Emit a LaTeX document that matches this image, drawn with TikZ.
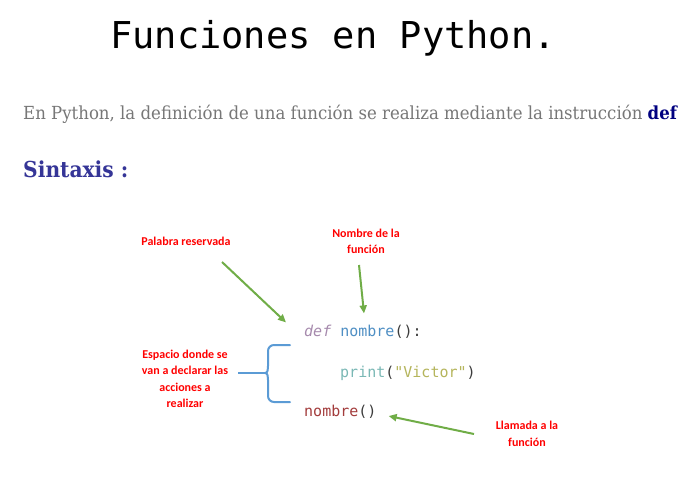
\documentclass[tikz,border=0pt]{standalone}
\usepackage{fontspec}
\usetikzlibrary{arrows.meta,calc}
\newfontfamily\titlefont{DejaVu Sans Mono}
\newfontfamily\codefont{DejaVu Sans Mono}
\newfontfamily\slabfont[FakeStretch=0.92]{DejaVu Serif}
\newfontfamily\notefont{Carlito}
\definecolor{textgray}{HTML}{777777}
\definecolor{navy}{HTML}{000080}
\definecolor{sintaxis}{HTML}{353597}
\definecolor{notered}{HTML}{FF0000}
\definecolor{arrowgreen}{HTML}{70AD47}
\definecolor{braceblue}{HTML}{5B9BD5}
\definecolor{defc}{HTML}{A68AAD}
\definecolor{namec}{HTML}{4F8FC4}
\definecolor{punctc}{HTML}{3C3C3C}
\definecolor{printc}{HTML}{7AB8B5}
\definecolor{strc}{HTML}{B5B55C}
\definecolor{callc}{HTML}{A33C3C}
\tikzset{
  note/.style={align=center, text=notered, inner sep=0pt, font=\notefont\bfseries\fontsize{12}{16.5}\selectfont},
  codeline/.style={anchor=base west, inner sep=0pt, font=\codefont\fontsize{15}{18}\selectfont},
  flecha/.style={draw=arrowgreen, line width=2pt, -{Triangle[length=8pt,width=7pt]}}
}
\begin{document}
\begin{tikzpicture}[x=1pt, y=-1pt]
\fill[white] (0,0) rectangle (690,477);
\useasboundingbox (0,0) rectangle (690,477);
\node[anchor=base west, inner sep=0pt, font=\titlefont\fontsize{37}{40}\selectfont] (title) at (110,48) {Funciones en Python.};
\node[anchor=base west, inner sep=0pt, text=textgray, font=\slabfont\fontsize{18}{20}\selectfont] (intro) at (23,119) {En Python, la definición de una función se realiza mediante la instrucción \textcolor{navy}{\bfseries def}};
\node[anchor=base west, inner sep=0pt, text=sintaxis, font=\slabfont\bfseries\fontsize{22}{24}\selectfont] (sintaxis) at (23,177) {Sintaxis :};
\node[codeline] (line1) at (304,336) {\textcolor{defc}{\itshape def} \textcolor{namec}{nombre}\textcolor{punctc}{():}};
\node[codeline] (line2) at (340,377) {\textcolor{printc}{print}\textcolor{punctc}{(}\textcolor{strc}{"Victor"}\textcolor{punctc}{)}};
\node[codeline] (line3) at (304,416) {\textcolor{callc}{nombre}\textcolor{punctc}{()}};
\node[note] (palabra) at (186,241) {Palabra reservada};
\node[note] (nombre) at (366,241.5) {Nombre de la\\función};
\node[note] (espacio) at (185,379) {Espacio donde se\\van a declarar las\\acciones a\\realizar};
\node[note] (llamada) at (527,434) {Llamada a la\\función};
\coordinate (palTail) at (222,262);
\coordinate (nomTail) at (359,265);
\coordinate (llamTail) at (474,434);
\draw[flecha] (palTail) -- ($(line1.north west)+(-18,-2)$);
\draw[flecha] (nomTail) -- ($(line1.north west)+(60,-11)$);
\draw[flecha] (llamTail) -- ($(line3.base east)+(12,0)$);
\coordinate (braceTop) at (290,345);
\coordinate (braceBot) at (290,402);
\coordinate (braceTip) at (265,373);
\coordinate (braceEnd) at (238,373);
\draw[braceblue, line width=2pt, line cap=round, line join=round]
  (braceTop) -- (274,345) to[out=180,in=90] (268,351) -- (268,366) to[out=-90,in=0] (braceTip)
  to[out=0,in=90] (268,380) -- (268,396) to[out=-90,in=180] (274,402) -- (braceBot);
\draw[braceblue, line width=2pt] (braceTip) -- (braceEnd);
\end{tikzpicture}
\end{document}
